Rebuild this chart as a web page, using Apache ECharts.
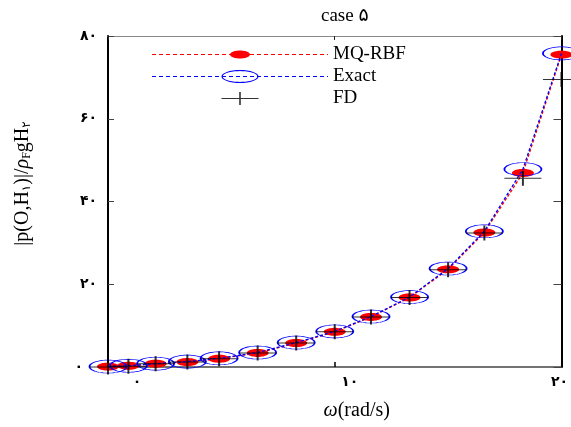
<!DOCTYPE html>
<html><head><meta charset="utf-8">
<script src="https://cdn.jsdelivr.net/npm/echarts@6/dist/echarts.min.js"></script>
<style>html,body{margin:0;padding:0;background:#fff}#c{width:571px;height:427px}</style>
</head><body><div id="c"></div>
<script>
// ---- data ----
const omega  = [0, 0.9, 2.1, 3.5, 4.9, 6.6, 8.3, 10, 11.6, 13.3, 15, 16.6, 18.3, 20];
const mqRbf  = [0.1, 0.3, 0.8, 1.2, 2.0, 3.4, 5.8, 8.5, 12.1, 16.8, 23.6, 32.5, 46.9, 75.5];
const exact  = [0.1, 0.3, 0.8, 1.3, 2.1, 3.5, 5.9, 8.6, 12.2, 16.9, 23.8, 32.8, 47.8, 75.8];
const fd     = [0.0, 0.2, 0.8, 1.2, 2.0, 3.4, 5.8, 8.5, 12.1, 16.8, 23.5, 32.4, 45.6, 69.5];
const seriesNames = ['MQ-RBF', 'Exact', 'FD'];
const xTickLabels = {0: '۰', 10: '۱۰', 20: '۲۰'};
const yTickLabels = {0: '۰', 20: '۲۰', 40: '۴۰', 60: '۶۰', 80: '۸۰'};
const titleText = 'case ۵';

// ---- helpers for marker / legend shapes ----
function ellipse(cx, cy, rx, ry, n, ccw) {
  let s = '';
  for (let i = 0; i < n; i++) {
    const a = (ccw ? -1 : 1) * 2 * Math.PI * i / n;
    s += (i ? 'L' : 'M') + (cx + rx * Math.cos(a)).toFixed(2) + ',' + (cy + ry * Math.sin(a)).toFixed(2) + ' ';
  }
  return s + 'Z ';
}
function rect(x, y, w, h) { return `M${x},${y} L${x + w},${y} L${x + w},${y + h} L${x},${y + h} Z `; }
function dashes(w, y, dash, gap, th) {
  let s = '';
  for (let x = 0; x < w; x += dash + gap) s += rect(x, y, Math.min(dash, w - x), th);
  return s;
}
const IW = 176, IH = 13;
const bbox = `M0,0 M${IW},${IH} `;
const iconMQ = 'path://' + bbox + dashes(IW, 6, 4, 3, 1) + ellipse(IW / 2, 6.5, 10, 4, 48, false);
const iconEx = 'path://' + bbox + dashes(IW, 6, 4, 3, 1) +
  ellipse(IW / 2, 6.5, 18.5, 6.5, 64, false) + ellipse(IW / 2, 6.5, 17.4, 5.4, 64, true);
const iconFD = 'path://' + bbox + rect(IW / 2 - 18.5, 6, 37, 1) + rect(IW / 2 - 0.8, 0, 1.6, 13);

const ellSym = 'path://' + ellipse(0, 0, 1, 1, 48, false);
const plusSym = 'path://' + rect(0, 7, 37, 1) + rect(17.5, 0, 2, 15);

const serif = '"Liberation Serif", "DejaVu Serif", "DejaVu Sans", serif';

const chart = echarts.init(document.getElementById('c'), null, {renderer: 'canvas'});
chart.setOption({
  animation: false,
  backgroundColor: '#fff',
  title: {
    text: titleText, left: 316, top: 2,
    textStyle: {fontFamily: serif, fontSize: 19, fontWeight: 'normal', color: '#000'}
  },
  legend: {
    orient: 'vertical', left: 147, top: 40,
    itemWidth: IW, itemHeight: IH, itemGap: 3,
    textStyle: {fontFamily: serif, fontSize: 19, color: '#000'},
    data: [
      {name: seriesNames[0], icon: iconMQ, itemStyle: {color: '#ff0000', borderWidth: 0}},
      {name: seriesNames[1], icon: iconEx, itemStyle: {color: '#0000ff', borderWidth: 0}},
      {name: seriesNames[2], icon: iconFD, itemStyle: {color: '#000000', borderWidth: 0}}
    ]
  },
  grid: {left: 108, right: 7, top: 36, bottom: 60, containLabel: false},
  xAxis: [{
    type: 'value', min: 0, max: 20, interval: 10, position: 'bottom',
    name: '{w|ω}(rad/s)', nameLocation: 'middle', nameGap: 34,
    nameTextStyle: {fontFamily: serif, fontSize: 20, color: '#000', padding: [0, 0, 0, 44],
      rich: {w: {fontStyle: 'italic', fontFamily: serif, fontSize: 20}}},
    axisLine: {show: true, onZero: false, lineStyle: {color: '#444', width: 1.5}},
    axisTick: {show: true, inside: true, length: 5, lineStyle: {color: '#000', width: 1.5}},
    splitLine: {show: false},
    axisLabel: {
      margin: 8, color: '#000', fontFamily: serif, fontSize: 14, fontWeight: 'bold',
      formatter: v => `{t${v}|${xTickLabels[v] || ''}}`,
      rich: {t0: {padding: [0, 0, 0, 58]}, t10: {padding: [0, 0, 0, 30]}, t20: {padding: [0, 4, 0, 0]}}
    }
  }, {
    type: 'value', min: 0, max: 20, interval: 10, position: 'top',
    axisLine: {show: true, onZero: false, lineStyle: {color: '#888', width: 1}},
    axisTick: {show: true, inside: true, length: 4, lineStyle: {color: '#222'}},
    axisLabel: {show: false}, splitLine: {show: false}
  }],
  yAxis: [{
    type: 'value', min: 0, max: 80, interval: 20, position: 'left',
    name: '|p(O,H{s|۱})|/{i|ρ}{s|F}gH{s|۲}', nameLocation: 'middle', nameGap: 75, nameRotate: 90,
    nameTextStyle: {fontFamily: serif, fontSize: 20, color: '#000', padding: [0, 0, 0, 36],
      rich: {s: {fontFamily: serif, fontSize: 12, verticalAlign: 'bottom'},
             i: {fontFamily: serif, fontSize: 20, fontStyle: 'italic'}}},
    axisLine: {show: true, onZero: false, lineStyle: {color: '#000', width: 2}},
    axisTick: {show: true, inside: true, length: 6, lineStyle: {color: '#444'}},
    splitLine: {show: false},
    axisLabel: {
      margin: 11, color: '#000', fontFamily: serif, fontSize: 14, fontWeight: 'bold',
      formatter: v => v === 0 ? `{z|${yTickLabels[v]}}` : (yTickLabels[v] || ''),
      rich: {z: {padding: [0, 14, 0, 0]}}
    }
  }, {
    type: 'value', min: 0, max: 80, interval: 20, position: 'right',
    axisLine: {show: true, onZero: false, lineStyle: {color: '#000', width: 2}},
    axisTick: {show: true, inside: true, length: 8, lineStyle: {color: '#444'}},
    axisLabel: {show: false}, splitLine: {show: false}
  }],
  series: [{
    name: seriesNames[0], type: 'line', clip: false,
    data: omega.map((x, i) => [x, mqRbf[i]]),
    symbol: ellSym, symbolSize: [22, 8],
    itemStyle: {color: '#ff0000'},
    lineStyle: {color: '#ff0000', width: 1.3, type: [3, 2]},
    z: 2
  }, {
    name: seriesNames[1], type: 'line', clip: false,
    data: omega.map((x, i) => [x, exact[i]]),
    symbol: ellSym, symbolSize: [37, 13],
    itemStyle: {color: 'rgba(0,0,0,0)', borderColor: '#0000ff', borderWidth: 1.1},
    lineStyle: {color: '#0000ff', width: 1.3, type: [3, 2]},
    z: 3
  }, {
    name: seriesNames[2], type: 'scatter', clip: false,
    data: omega.map((x, i) => [x, fd[i]]),
    symbol: plusSym, symbolSize: [37, 15],
    itemStyle: {color: '#000'},
    z: 4
  }]
});
</script>
</body></html>
